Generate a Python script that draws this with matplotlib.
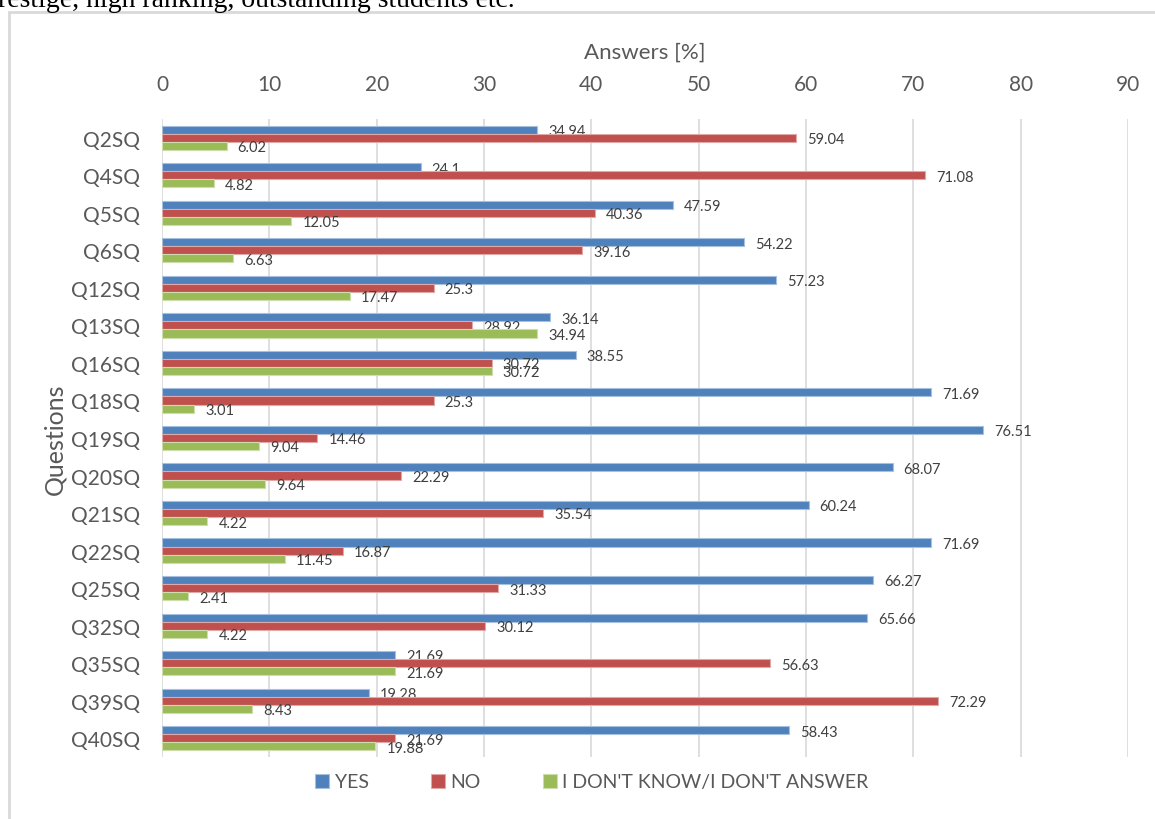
import numpy as np
import matplotlib.pyplot as plt
from matplotlib.patches import Rectangle

# data
questions = ['Q2SQ', 'Q4SQ', 'Q5SQ', 'Q6SQ', 'Q12SQ', 'Q13SQ', 'Q16SQ', 'Q18SQ', 'Q19SQ',
             'Q20SQ', 'Q21SQ', 'Q22SQ', 'Q25SQ', 'Q32SQ', 'Q35SQ', 'Q39SQ', 'Q40SQ']
yes = [34.94, 24.1, 47.59, 54.22, 57.23, 36.14, 38.55, 71.69, 76.51,
       68.07, 60.24, 71.69, 66.27, 65.66, 21.69, 19.28, 58.43]
no = [59.04, 71.08, 40.36, 39.16, 25.3, 28.92, 30.72, 25.3, 14.46,
      22.29, 35.54, 16.87, 31.33, 30.12, 56.63, 72.29, 21.69]
idk = [6.02, 4.82, 12.05, 6.63, 17.47, 34.94, 30.72, 3.01, 9.04,
       9.64, 4.22, 11.45, 2.41, 4.22, 21.69, 8.43, 19.88]
series_names = ['YES', 'NO', "I DON'T KNOW/I DON'T ANSWER"]
colors = ['#4F81BD', '#C0504D', '#9BBB59']
edges = ['#A7C0DE', '#E0A8A6', '#CDDDAC']

W, H = 1155, 820
fig = plt.figure(figsize=(W / 100, H / 100), dpi=100)
font = ['Lato', 'DejaVu Sans']
txt = '#595959'

# cropped page text and chart frame
fig.text(-2 / W, 1 - 7 / H, 'restige, high ranking, outstanding students etc.',
         family='Liberation Serif', fontsize=20, va='baseline', ha='left', color='black')
fig.patches.append(Rectangle((9 / W, -0.1), 1.2, 1 - 13 / H + 0.1, transform=fig.transFigure,
                             fill=False, edgecolor='#D9D9D9', linewidth=2))

ax = fig.add_axes([162 / W, 1 - 758 / H, (1128 - 162) / W, (758 - 120) / H])

y = np.arange(len(questions))
bh = 0.215
for k, vals in enumerate([yes, no, idk]):
    pos = y + (k - 1) * bh
    ax.barh(pos, vals, height=bh, color=colors[k], edgecolor=edges[k],
            linewidth=0.8, label=series_names[k], zorder=3)
    for p, v in zip(pos, vals):
        ax.annotate(f'{v:g}', (v, p), xytext=(8, -1), textcoords='offset points',
                    va='center', ha='left', fontsize=10.5, color='#404040', family=font)

ax.set_ylim(len(questions) - 0.5, -0.5)
ax.set_xlim(0, 90)
ax.set_xticks(range(0, 91, 10))
ax.set_yticks(y)
ax.set_yticklabels(questions, family=font, fontsize=15, color=txt)
ax.xaxis.tick_top()
ax.xaxis.set_label_position('top')
for lab in ax.get_xticklabels():
    lab.set_family(font)
    lab.set_fontsize(15)
    lab.set_color(txt)
ax.tick_params(length=0, pad=18)
ax.tick_params(axis='y', pad=16)
ax.grid(axis='x', color='#D9D9D9', linewidth=1.2, zorder=0)
for s in ax.spines.values():
    s.set_visible(False)

ax.set_xlabel('Answers [%]', family=font, fontsize=16, color=txt, labelpad=12)
ax.set_ylabel('Questions', family=font, fontsize=18, color=txt)
ax.yaxis.set_label_coords((55 - 162) / (1128 - 162), 0.5)
ax.yaxis.label.set_va('center')

leg = fig.legend(loc='center', bbox_to_anchor=(592 / W, 1 - 783 / H), ncol=3, frameon=False,
                 handlelength=0.7, handleheight=0.75, handletextpad=0.3, columnspacing=3.2,
                 prop={'family': font, 'size': 14})
for t in leg.get_texts():
    t.set_color(txt)

fig.savefig('out.png', dpi=100)
